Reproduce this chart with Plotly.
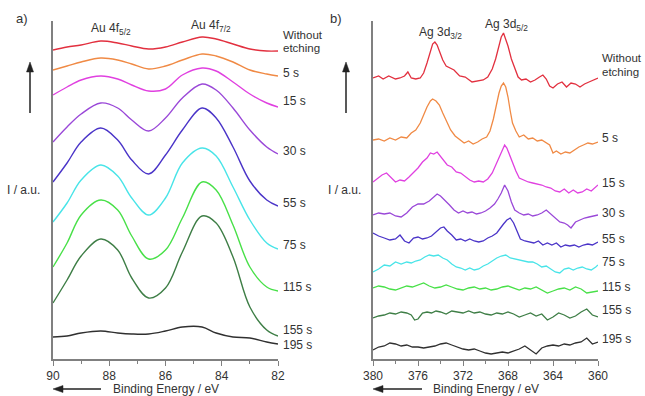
import plotly.graph_objects as go

# ---------------- Panel a: Au 4f ----------------
energy_a = [90, 89.5, 89.0, 88.3, 87.7, 87.2, 86.6, 86.0, 85.4, 84.7, 84.2, 83.6, 83.0, 82.4, 82.0]
au_labels = ["Without etching", "5 s", "15 s", "30 s", "55 s", "75 s", "115 s", "155 s", "195 s"]
au_values = [
    [309, 312, 314, 318, 316, 313, 310, 312, 317, 322, 320, 315, 310, 308, 308],
    [289, 293, 297, 301, 299, 295, 290, 293, 299, 305, 303, 297, 289, 285, 283],
    [264, 272, 279, 283, 280, 274, 268, 270, 284, 291, 288, 277, 265, 256, 252],
    [217, 232, 245, 256, 251, 239, 228, 241, 261, 275, 269, 251, 229, 212, 205],
    [177, 196, 217, 231, 219, 199, 185, 204, 229, 251, 241, 212, 178, 159, 153],
    [137, 156, 179, 194, 183, 161, 144, 161, 196, 211, 203, 172, 139, 116, 110],
    [92, 116, 144, 159, 149, 123, 100, 109, 141, 177, 169, 134, 92, 72, 68],
    [56, 79, 103, 120, 109, 81, 61, 71, 107, 143, 136, 102, 52, 29, 23],
    [22, 23, 26, 28, 26, 25, 25, 28, 32, 32, 26, 22, 21, 17, 15],
]

# ---------------- Panel b: Ag 3d ----------------
ag_labels = ["Without etching", "5 s", "15 s", "30 s", "55 s", "75 s", "115 s", "155 s", "195 s"]
ag_energy = [
    [380.0, 379.5, 379.1, 378.6, 378.0, 377.6, 377.2, 376.9, 376.6, 376.2, 375.8, 375.5, 375.2, 374.9, 374.7, 374.5, 374.3, 374.1, 373.8, 373.5, 373.2, 372.8, 372.3, 371.8, 371.2, 370.7, 370.2, 369.8, 369.4, 369.1, 368.8, 368.6, 368.4, 368.2, 368.0, 367.7, 367.4, 367.1, 366.8, 366.4, 366.0, 365.6, 365.2, 364.9, 364.6, 364.3, 364.0, 363.6, 363.2, 362.8, 362.4, 362.0, 361.6, 361.2, 360.8, 360.4, 360.0],
    [380.0, 379.5, 379.0, 378.5, 378.0, 377.5, 377.0, 376.6, 376.2, 375.8, 375.5, 375.2, 374.9, 374.7, 374.4, 374.1, 373.8, 373.5, 373.1, 372.7, 372.3, 371.9, 371.5, 371.1, 370.7, 370.3, 369.9, 369.6, 369.3, 369.0, 368.8, 368.6, 368.4, 368.2, 368.0, 367.8, 367.6, 367.3, 367.0, 366.6, 366.2, 365.8, 365.4, 365.0, 364.6, 364.3, 364.0, 363.7, 363.3, 362.9, 362.5, 362.1, 361.7, 361.3, 360.9, 360.5, 360.0],
    [380.0, 379.6, 379.2, 378.8, 378.4, 378.0, 377.6, 377.2, 376.8, 376.4, 376.0, 375.6, 375.2, 374.9, 374.6, 374.3, 374.0, 373.7, 373.4, 373.0, 372.6, 372.2, 371.8, 371.4, 371.0, 370.6, 370.2, 369.8, 369.4, 369.1, 368.8, 368.5, 368.3, 368.1, 367.9, 367.6, 367.3, 367.0, 366.6, 366.2, 365.8, 365.4, 365.0, 364.6, 364.2, 363.8, 363.4, 363.0, 362.6, 362.2, 361.8, 361.4, 361.0, 360.6, 360.2, 360.0],
    [380.0, 379.5, 379.0, 378.5, 378.0, 377.5, 377.0, 376.5, 376.0, 375.5, 375.0, 374.6, 374.3, 374.0, 373.6, 373.2, 372.8, 372.4, 372.0, 371.6, 371.2, 370.8, 370.4, 370.0, 369.6, 369.2, 368.9, 368.6, 368.3, 368.0, 367.7, 367.4, 367.0, 366.6, 366.2, 365.8, 365.4, 365.0, 364.6, 364.2, 363.8, 363.4, 363.0, 362.7, 362.4, 362.0, 361.6, 361.2, 360.8, 360.4, 360.0],
    [380.0, 379.5, 379.0, 378.5, 378.0, 377.6, 377.2, 376.8, 376.4, 376.0, 375.6, 375.2, 374.8, 374.4, 374.0, 373.7, 373.4, 373.0, 372.6, 372.2, 371.8, 371.4, 371.0, 370.6, 370.2, 369.8, 369.4, 369.0, 368.7, 368.4, 368.1, 367.8, 367.5, 367.2, 366.9, 366.5, 366.1, 365.7, 365.3, 364.9, 364.5, 364.1, 363.7, 363.3, 362.9, 362.5, 362.1, 361.7, 361.3, 360.9, 360.5, 360.0],
    [380.0, 379.5, 379.0, 378.5, 378.0, 377.5, 377.0, 376.6, 376.2, 375.8, 375.4, 375.0, 374.6, 374.2, 373.8, 373.4, 373.0, 372.6, 372.2, 371.8, 371.4, 371.0, 370.6, 370.2, 369.8, 369.4, 369.0, 368.6, 368.2, 367.8, 367.4, 367.0, 366.6, 366.2, 365.8, 365.4, 365.0, 364.6, 364.2, 363.8, 363.4, 363.0, 362.6, 362.2, 361.8, 361.4, 361.0, 360.6, 360.2, 360.0],
    [380.0, 379.5, 379.0, 378.5, 378.0, 377.5, 377.0, 376.5, 376.0, 375.5, 375.0, 374.5, 374.0, 373.5, 373.0, 372.5, 372.0, 371.5, 371.0, 370.5, 370.0, 369.5, 369.0, 368.5, 368.0, 367.5, 367.0, 366.5, 366.0, 365.5, 365.0, 364.5, 364.0, 363.5, 363.0, 362.5, 362.0, 361.5, 361.0, 360.5, 360.0],
    [380.0, 379.5, 379.0, 378.5, 378.0, 377.5, 377.0, 376.6, 376.3, 376.0, 375.6, 375.2, 374.8, 374.4, 374.0, 373.5, 373.0, 372.5, 372.0, 371.5, 371.0, 370.5, 370.0, 369.5, 369.0, 368.5, 368.0, 367.5, 367.0, 366.5, 366.0, 365.5, 365.0, 364.5, 364.0, 363.5, 363.0, 362.5, 362.0, 361.5, 361.0, 360.5, 360.0],
    [380.0, 379.5, 379.0, 378.5, 378.0, 377.5, 377.0, 376.5, 376.0, 375.5, 375.0, 374.5, 374.0, 373.5, 373.0, 372.5, 372.0, 371.5, 371.0, 370.5, 370.0, 369.5, 369.0, 368.5, 368.0, 367.5, 367.0, 366.5, 366.0, 365.5, 365.0, 364.5, 364.0, 363.5, 363.0, 362.5, 362.0, 361.5, 361.0, 360.5, 360.0],
]
ag_values = [
    [281, 283, 280, 283, 280, 281, 283, 287, 281, 280, 281, 286, 296, 309, 315, 317, 314, 308, 299, 293, 291, 289, 283, 282, 277, 278, 279, 282, 290, 300, 314, 322, 326, 320, 313, 300, 290, 282, 279, 280, 277, 279, 282, 284, 280, 273, 271, 275, 277, 272, 276, 275, 272, 275, 277, 279, 281],
    [219, 220, 218, 221, 219, 222, 221, 226, 229, 236, 244, 252, 258, 260, 258, 254, 246, 238, 229, 223, 219, 216, 218, 215, 217, 220, 222, 228, 240, 256, 266, 273, 276, 272, 262, 248, 236, 228, 222, 224, 220, 221, 218, 219, 216, 214, 206, 208, 205, 207, 206, 209, 212, 214, 216, 215, 217],
    [177, 181, 184, 186, 181, 177, 179, 178, 182, 186, 191, 197, 201, 206, 205, 207, 203, 199, 194, 192, 187, 186, 182, 179, 177, 178, 177, 180, 186, 194, 202, 209, 214, 211, 205, 196, 188, 181, 179, 177, 176, 175, 174, 172, 171, 168, 167, 170, 166, 169, 166, 167, 170, 168, 172, 174],
    [144, 146, 145, 146, 143, 142, 146, 152, 155, 155, 158, 162, 165, 163, 159, 154, 149, 146, 148, 146, 147, 145, 146, 148, 151, 155, 160, 166, 174, 168, 157, 149, 146, 144, 145, 143, 144, 146, 149, 145, 140, 137, 136, 134, 131, 137, 139, 141, 142, 143, 144],
    [126, 123, 121, 119, 120, 124, 118, 116, 121, 122, 120, 121, 123, 127, 131, 132, 128, 124, 119, 120, 118, 120, 118, 117, 118, 121, 123, 126, 131, 135, 139, 141, 136, 128, 120, 118, 117, 116, 118, 114, 116, 114, 116, 112, 114, 113, 114, 112, 114, 115, 114, 117],
    [87, 90, 94, 93, 97, 95, 97, 96, 98, 99, 102, 104, 103, 104, 101, 99, 95, 92, 91, 89, 91, 89, 90, 93, 95, 98, 101, 103, 104, 101, 100, 99, 98, 97, 97, 95, 92, 93, 90, 87, 86, 90, 91, 89, 91, 92, 90, 89, 92, 94],
    [71, 73, 72, 70, 69, 71, 73, 72, 74, 76, 73, 71, 72, 74, 72, 70, 69, 71, 72, 70, 71, 69, 70, 72, 73, 71, 69, 71, 70, 72, 69, 66, 68, 70, 71, 69, 72, 70, 66, 67, 68],
    [41, 43, 44, 46, 45, 47, 46, 44, 39, 40, 46, 47, 46, 48, 47, 45, 48, 47, 46, 48, 46, 47, 45, 44, 46, 45, 47, 45, 42, 44, 46, 43, 45, 39, 42, 46, 44, 41, 43, 47, 50, 44, 42],
    [9, 12, 13, 16, 15, 13, 14, 12, 12, 11, 12, 13, 15, 16, 14, 12, 10, 9, 10, 8, 6, 5, 6, 7, 6, 8, 10, 13, 9, 5, 11, 13, 14, 13, 15, 14, 16, 17, 21, 15, 17],
]

colors = ["#e2303f", "#f08a45", "#e040e0", "#9a48d8", "#4a34c8", "#48e4e8", "#48e048", "#3e7e46", "#303030"]

# label vertical positions (in a.u. of the plot)
au_label_y = [318, 286, 258, 208, 156, 114, 72, 29, 14]
ag_label_y = [294, 221, 176, 146, 120, 97, 72, 49, 20]

W, H = 645, 396
MT, MB = 21, 37
PH = H - MT - MB


def px(x):
    return x / W


def py(y):
    return (H - MB - y) / PH


fig = go.Figure()
for vals, col in zip(au_values, colors):
    fig.add_trace(go.Scatter(x=energy_a, y=vals, mode="lines", line=dict(color=col, width=1.4, shape="spline", smoothing=1.0),
                             xaxis="x", yaxis="y", showlegend=False, hoverinfo="skip"))
for ev, vals, col in zip(ag_energy, ag_values, colors):
    fig.add_trace(go.Scatter(x=ev, y=vals, mode="lines", line=dict(color=col, width=1.3),
                             xaxis="x2", yaxis="y2", showlegend=False, hoverinfo="skip"))

FONT = "Liberation Sans, Arial, sans-serif"
tc = "#333333"
axis_common = dict(showline=True, linecolor="#808080", linewidth=1.5, showgrid=False, zeroline=False,
                   ticks="outside", ticklen=5, tickwidth=1.2, tickcolor="#808080", automargin=False,
                   tickfont=dict(size=12, color=tc, family=FONT))
yaxis_common = dict(showline=True, linecolor="#808080", linewidth=1.5, showgrid=False, zeroline=False,
                    showticklabels=False, ticks="", range=[0, PH], automargin=False)

annotations = []
shapes = []


def text(x, y, s, size=12, xanchor="center"):
    annotations.append(dict(x=px(x), y=py(y), xref="paper", yref="paper", text=s, showarrow=False,
                            font=dict(size=size, color=tc, family=FONT), xanchor=xanchor, yanchor="middle"))


def side_labels(labels, ys, xpix):
    for lab, yv in zip(labels, ys):
        if lab == "Without etching":
            text(xpix, H - MB - yv - 6.5, "Without", size=11.5, xanchor="left")
            text(xpix, H - MB - yv + 6.5, "etching", size=11.5, xanchor="left")
        else:
            text(xpix, H - MB - yv, lab, xanchor="left")


side_labels(au_labels, au_label_y, 281)
side_labels(ag_labels, ag_label_y, 600)

# peak labels
text(111, 29, "Au 4f<sub>5/2</sub>")
text(211, 26, "Au 4f<sub>7/2</sub>")
text(441, 33, "Ag 3d<sub>3/2</sub>")
text(506, 25, "Ag 3d<sub>5/2</sub>")

# panel letters
text(22, 18, "a)", size=13)
text(336, 19, "b)", size=13)

# y titles
text(23, 190, "I / a.u.")
text(345, 190, "I / a.u.")

# x titles
text(166, 389, "Binding Energy / eV")
text(486, 389, "Binding Energy / eV")

# arrows drawn as shapes (shaft + head)
AC = "#222222"
for xa in (30, 346):
    shapes.append(dict(type="line", xref="paper", yref="paper", x0=px(xa), x1=px(xa), y0=py(113), y1=py(70),
                       line=dict(color=AC, width=1.5)))
    shapes.append(dict(type="path", xref="paper", yref="paper",
                       path=f"M {px(xa)} {py(62)} L {px(xa - 3.5)} {py(72)} L {px(xa + 3.5)} {py(72)} Z",
                       fillcolor=AC, line=dict(color=AC, width=0.5)))
for (xh, xt) in ((53, 101), (373, 422)):
    shapes.append(dict(type="line", xref="paper", yref="paper", x0=px(xh + 6), x1=px(xt), y0=py(389), y1=py(389),
                       line=dict(color=AC, width=1.5)))
    shapes.append(dict(type="path", xref="paper", yref="paper",
                       path=f"M {px(xh)} {py(389)} L {px(xh + 10)} {py(385.5)} L {px(xh + 10)} {py(392.5)} Z",
                       fillcolor=AC, line=dict(color=AC, width=0.5)))

fig.update_layout(
    width=W, height=H,
    margin=dict(l=0, r=0, t=MT, b=MB, autoexpand=False),
    paper_bgcolor="white", plot_bgcolor="white",
    xaxis=dict(domain=[53 / W, 278 / W], range=[90, 82], tickvals=[90, 88, 86, 84, 82],
               minor=dict(ticks="outside", ticklen=3, tickcolor="#808080", dtick=1, tick0=0), anchor="y", **axis_common),
    xaxis2=dict(domain=[373 / W, 598 / W], range=[380, 360], tickvals=[380, 376, 372, 368, 364, 360],
                minor=dict(ticks="outside", ticklen=3, tickcolor="#808080", dtick=2, tick0=0), anchor="y2", **axis_common),
    yaxis=dict(domain=[0, 1], anchor="x", **yaxis_common),
    yaxis2=dict(domain=[0, 1], anchor="x2", **yaxis_common),
    annotations=annotations,
    shapes=shapes,
)

fig.write_html("out.html", config={"displayModeBar": False},
               post_script="document.body.style.margin='0';document.body.style.overflow='hidden';")
